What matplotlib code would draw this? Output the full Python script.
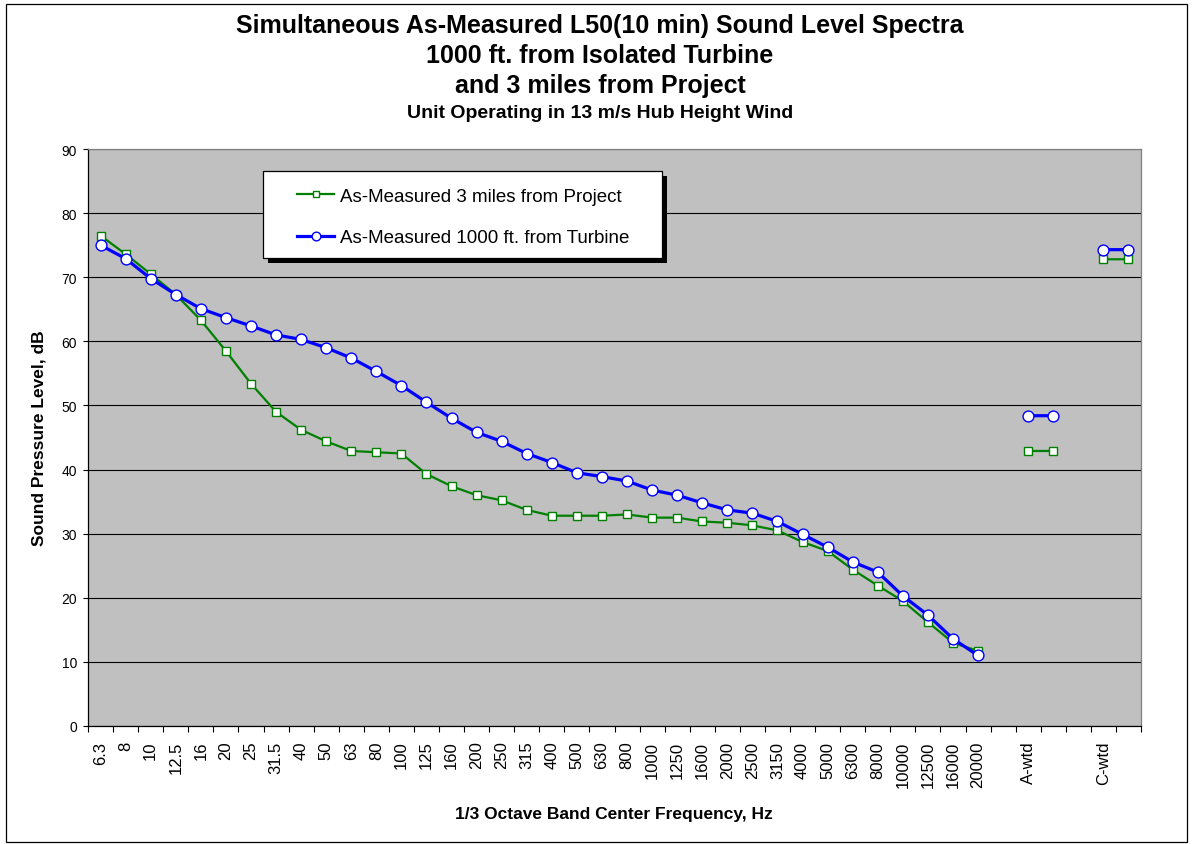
import matplotlib
matplotlib.use("Agg")
import matplotlib.pyplot as plt
from matplotlib.patches import Rectangle
import numpy as np

plt.rcParams['font.family'] = ['Liberation Sans', 'DejaVu Sans']

# ---- data ----
band_labels = ['6.3', '8', '10', '12.5', '16', '20', '25', '31.5', '40', '50', '63', '80',
               '100', '125', '160', '200', '250', '315', '400', '500', '630', '800', '1000',
               '1250', '1600', '2000', '2500', '3150', '4000', '5000', '6300', '8000',
               '10000', '12500', '16000', '20000']
weighted_labels = ['', 'A-wtd', '', '', 'C-wtd', '']

project_bands = [76.5, 73.6, 70.5, 67.3, 63.3, 58.5, 53.4, 49.0, 46.2, 44.4, 42.9, 42.7,
                 42.5, 39.3, 37.4, 36.0, 35.2, 33.7, 32.8, 32.8, 32.8, 33.0, 32.5,
                 32.5, 31.9, 31.7, 31.3, 30.5, 28.7, 27.3, 24.4, 21.9,
                 19.5, 16.2, 13.0, 11.7]
turbine_bands = [75.0, 72.9, 69.8, 67.3, 65.1, 63.7, 62.4, 61.0, 60.3, 59.0, 57.4, 55.3,
                 53.1, 50.5, 48.0, 45.8, 44.4, 42.5, 41.1, 39.5, 38.9, 38.2, 36.8,
                 36.0, 34.8, 33.7, 33.2, 31.9, 29.9, 27.9, 25.6, 24.0,
                 20.3, 17.3, 13.6, 11.0]
project_awtd = 42.9
project_cwtd = 72.8
turbine_awtd = 48.4
turbine_cwtd = 74.3

categories = band_labels + weighted_labels
nan = np.nan
project = project_bands + [nan, project_awtd, project_awtd, nan, project_cwtd, project_cwtd]
turbine = turbine_bands + [nan, turbine_awtd, turbine_awtd, nan, turbine_cwtd, turbine_cwtd]
x = np.arange(len(categories))

# ---- figure ----
W, H = 1192, 845
fig = plt.figure(figsize=(W / 100, H / 100), dpi=100)
fig.patch.set_facecolor('white')

L, R, T, B = 88, 1141, 150, 727
ax = fig.add_axes([L / W, 1 - B / H, (R - L) / W, (B - T) / H])
ax.set_facecolor('#C0C0C0')

ax.plot(x, project, color='#008000', lw=1.6, marker='s', ms=5.2, mfc='white',
        mec='#008000', mew=1.0, label='As-Measured 3 miles from Project', zorder=3)
ax.plot(x, turbine, color='#0000FF', lw=2.3, marker='o', ms=7.8, mfc='white',
        mec='#0000FF', mew=1.0, label='As-Measured 1000 ft. from Turbine', zorder=3.5)

ax.set_xlim(-0.5, len(categories) - 0.5)
ax.set_ylim(0, 90)
ax.set_yticks(np.arange(0, 91, 10))
ax.yaxis.grid(True, color='black', lw=0.8)
ax.set_axisbelow(True)

ax.set_xticks(x)
ax.set_xticklabels(categories, rotation=90, fontsize=12, va='top', ha='center')
ax.set_xticks(np.arange(-0.5, len(categories), 1.0), minor=True)
ax.tick_params(axis='x', which='major', length=0, pad=10.5)
ax.tick_params(axis='x', which='minor', length=4.5, width=0.8, direction='out')
ax.tick_params(axis='y', which='major', length=3.3, width=0.8, direction='out',
               labelsize=10, pad=4.5)

for s in ['left', 'bottom']:
    ax.spines[s].set_color('black')
    ax.spines[s].set_linewidth(0.9)
for s in ['top', 'right']:
    ax.spines[s].set_color('#808080')
    ax.spines[s].set_linewidth(0.9)

# legend box with shadow
bx0, bx1 = (263 - L) / (R - L), (662 - L) / (R - L)
by0, by1 = (B - 259) / (B - T), (B - 172) / (B - T)
dx, dy = 4.5 / (R - L), 5 / (B - T)
ax.add_patch(Rectangle((bx0 + dx, by0 - dy), bx1 - bx0, by1 - by0, transform=ax.transAxes,
                       facecolor='black', edgecolor='black', lw=0, zorder=4.8, clip_on=False))
ax.add_patch(Rectangle((bx0, by0), bx1 - bx0, by1 - by0, transform=ax.transAxes,
                       facecolor='white', edgecolor='black', lw=0.9, zorder=4.9, clip_on=False))
leg = ax.legend(loc='center', bbox_to_anchor=((463 - L) / (R - L), (B - 218) / (B - T)),
                frameon=False, fontsize=13.5, handlelength=2.0, handletextpad=0.3,
                labelspacing=1.3, borderpad=0, markerscale=0.8)
leg.set_zorder(6)

# titles
fig.text(600 / W, 1 - 26 / H, 'Simultaneous As-Measured L50(10 min) Sound Level Spectra',
         ha='center', va='center', fontsize=18, fontweight='bold')
fig.text(600 / W, 1 - 56 / H, '1000 ft. from Isolated Turbine',
         ha='center', va='center', fontsize=18, fontweight='bold')
fig.text(600 / W, 1 - 86 / H, 'and 3 miles from Project',
         ha='center', va='center', fontsize=18, fontweight='bold')
fig.text(600 / W, 1 - 114 / H, 'Unit Operating in 13 m/s Hub Height Wind',
         ha='center', va='center', fontsize=14, fontweight='bold')

fig.text(39 / W, 1 - 438 / H, 'Sound Pressure Level, dB', rotation=90,
         ha='center', va='center', fontsize=12.5, fontweight='bold')
fig.text(614 / W, 1 - 815 / H, '1/3 Octave Band Center Frequency, Hz',
         ha='center', va='center', fontsize=12.5, fontweight='bold')

# outer chart border
fig.add_artist(Rectangle((6 / W, 1 - 843 / H), 1181 / W, 838 / H, transform=fig.transFigure,
                         facecolor='none', edgecolor='black', lw=0.9))

fig.savefig('out.png', dpi=100)
